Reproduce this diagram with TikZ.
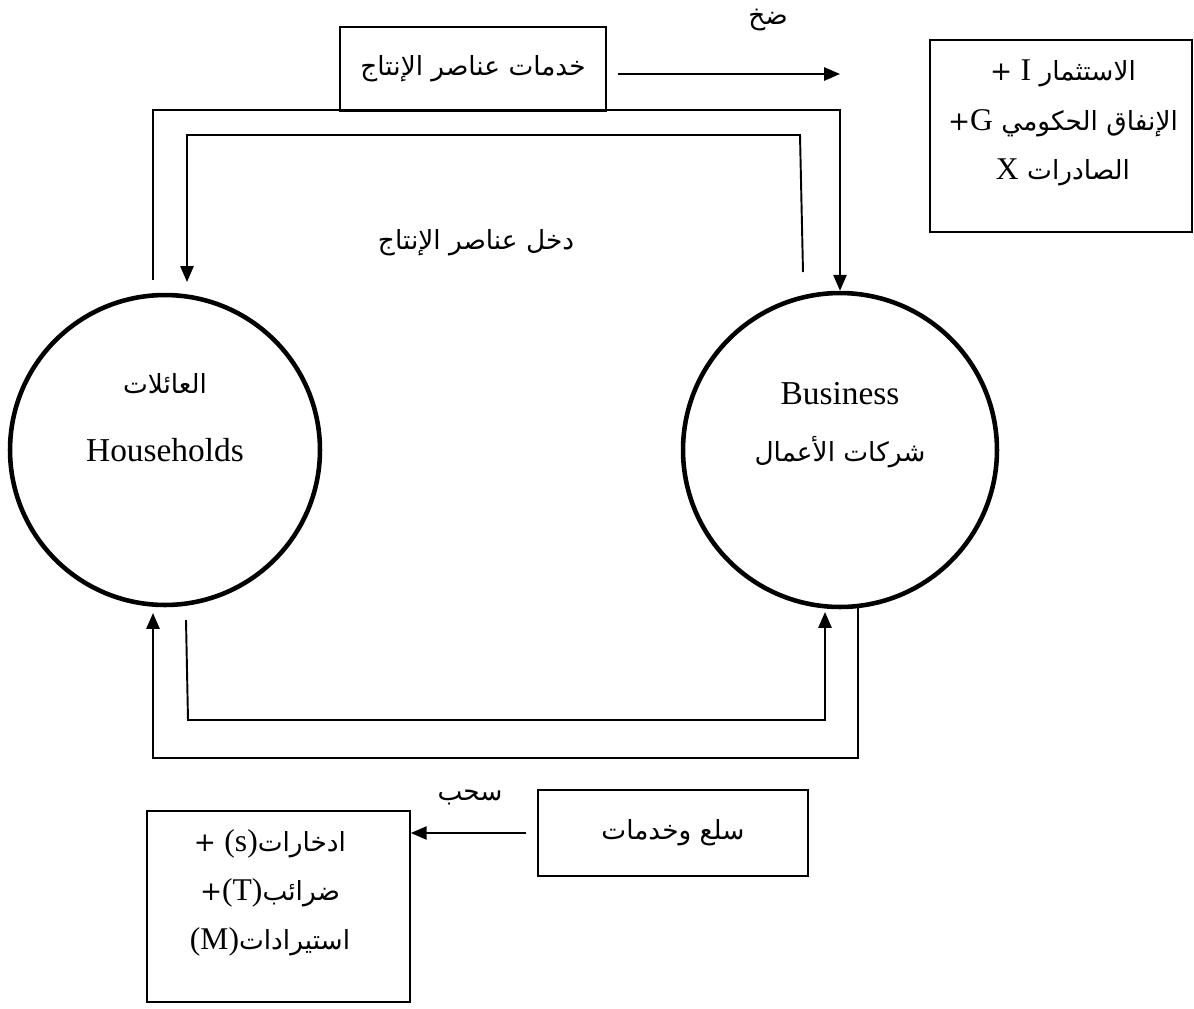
\documentclass[tikz,border=0pt]{standalone}
\usepackage{fontspec}
\setmainfont{Liberation Serif}
\newfontfamily\arabicfont[Script=Arabic]{DejaVu Sans}
\TeXXeTstate=1
\usetikzlibrary{arrows.meta}
\newcommand\arf{\arabicfont\fontsize{15}{28}\selectfont}
\newcommand\latf{\rmfamily\fontsize{19}{28}\selectfont}
\newcommand\mixf{\rmfamily\fontsize{18}{28}\selectfont}
\begin{document}
\begin{tikzpicture}[x=0.02cm,y=-0.02cm,
  box/.style={draw, line width=1pt, inner sep=0pt, align=center, font=\arf},
  sector/.style={circle, draw, line width=2.6pt, inner sep=0pt},
  txt/.style={inner sep=0pt, align=center, font=\arf},
  flow/.style={line width=1.1pt},
  arr/.style={flow, -{Triangle[length=9pt,width=7.5pt]}}]
\useasboundingbox (0,0) rectangle (1194,1008);
% boxes
\node[box, minimum width=5.32cm, minimum height=1.68cm] (fsvc) at (473,69)
  {\beginR خدمات عناصر الإنتاج\endR};
\node[box, minimum width=5.24cm, minimum height=3.84cm] (inj) at (1061,136) {};
\node[txt] (injtxt) at (1063,123)
  {\beginR الاستثمار {\mixf I} +\endR\\
   \beginR الإنفاق الحكومي {\mixf G}+\endR\\
   \beginR الصادرات {\mixf X}\endR};
\node[box, minimum width=5.26cm, minimum height=3.82cm] (leak) at (278.5,906.5) {};
\node[txt] (leaktxt) at (270,893)
  {\beginR ادخارات{\mixf\beginL(s)\endL} +\endR\\
   \beginR ضرائب{\mixf\beginL(T)\endL}+\endR\\
   \beginR استيرادات{\mixf\beginL(M)\endL}\endR};
\node[box, minimum width=5.4cm, minimum height=1.72cm] (goods) at (673,833)
  {\beginR سلع وخدمات\endR};
% sectors
\node[sector, minimum size=6.2cm] (H) at (165,450) {};
\node[txt] (Har) at (165,384) {\beginR العائلات\endR};
\node[txt] (Hen) at (165,450) {\latf Households};
\node[sector, minimum size=6.28cm] (B) at (840,450) {};
\node[txt] (Ben) at (840,394) {\latf Business};
\node[txt] (Bar) at (840,452) {\beginR شركات الأعمال\endR};
% flow labels
\node[txt] (inlab) at (768,20) {\beginR ضخ\endR};
\node[txt] (outlab) at (470,797) {\beginR سحب\endR};
\node[txt] (inclab) at (476,243) {\beginR دخل عناصر الإنتاج\endR};
% free ends
\coordinate (injend) at (840,74);
\coordinate (hto) at (153,280);
\coordinate (bti) at (803,272);
\coordinate (hti) at (187,282);
\coordinate (hbi) at (186,620);
\coordinate (bbi) at (825,612);
\coordinate (bbo) at (858,607);
\coordinate (hbo) at (153,613);
% connectors
\draw[arr, shorten <=0.22cm] (fsvc.east |- injend) -- (injend);
\draw[arr, shorten <=0.22cm] (goods.west) -- (leak.east |- goods.west);
\draw[arr] (hto) -- ++(0,-170) -| (B.north);
\draw[arr] (bti) -- ++(-3,-137) -| (hti);
\draw[arr] (hbi) -- ++(2,100) -| (bbi);
\draw[arr] (bbo) -- ++(0,151) -| (hbo);
\end{tikzpicture}
\end{document}
